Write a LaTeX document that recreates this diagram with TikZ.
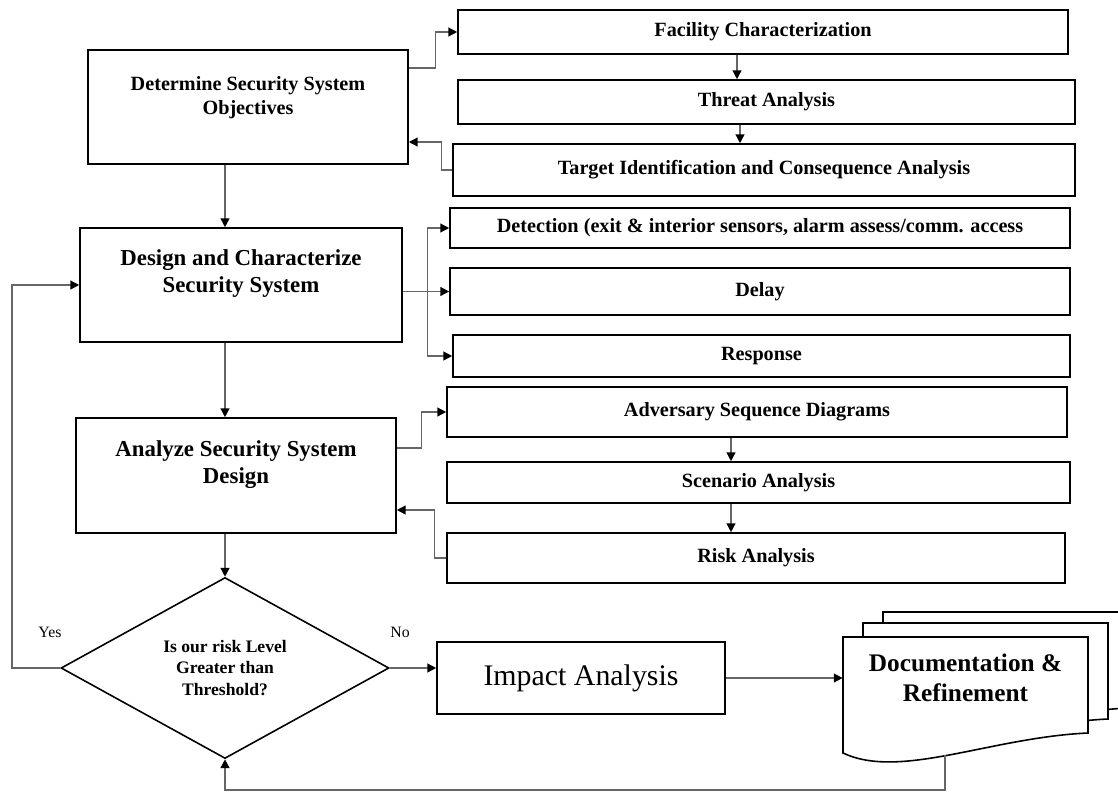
\documentclass[tikz,border=0pt]{standalone}
\usepackage{fontspec}
\setmainfont{Liberation Serif}
\usetikzlibrary{arrows.meta,shapes.geometric}

\begin{document}
\begin{tikzpicture}[
		>={Triangle[length=5pt,width=5pt,color=black]},
		box/.style={draw, line width=0.9pt, inner sep=0pt, font=\bfseries\fontsize{11.5}{13.5}\selectfont},
		bigbox/.style={box, align=center, minimum width=6.4cm, minimum height=2.28cm, font=\bfseries\fontsize{13}{15.5}\selectfont},
		conn/.style={->, draw=black!60, line width=0.8pt},
		lbl/.style={font=\fontsize{9}{11}\selectfont}
	]
			\useasboundingbox (0,0) rectangle (22.36,-15.9);
			
			% main steps
			\node[bigbox, font=\bfseries\fontsize{11.5}{13.5}\selectfont] (obj) at (4.96,-2.14) {Determine Security System\\Objectives\\\mbox{}};
			\node[bigbox, minimum width=6.44cm] (design) at (4.82,-5.70) {Design and Characterize\\Security System\\\mbox{}};
			\node[bigbox, minimum height=2.3cm] (analyze) at (4.72,-9.51) {Analyze Security System\\Design\\\mbox{}};
			\node[draw, diamond, line width=0.9pt, inner sep=0pt, aspect=1.8, minimum width=6.56cm, minimum height=3.62cm, align=center, font=\bfseries\fontsize{10}{12}\selectfont] (dia) at (4.5,-13.36) {Is our risk Level\\Greater than\\Threshold?};
			\node[draw, line width=0.9pt, minimum width=5.76cm, minimum height=1.44cm, font=\fontsize{17}{20}\selectfont] (impact) at (11.62,-13.56) {Impact Analysis};
			
			% sub steps
			\node[box, minimum width=12.2cm, minimum height=0.88cm] (fac) at (15.26,-0.64) {Facility Characterization};
			\node[box, minimum width=12.34cm, minimum height=0.88cm] (threat) at (15.33,-2.04) {Threat Analysis};
			\node[box, minimum width=12.44cm, minimum height=1.04cm] (target) at (15.28,-3.40) {Target Identification and Consequence Analysis};
			\node[box, minimum width=12.4cm, minimum height=0.8cm] (detect) at (15.2,-4.56) {Detection (exit \& interior sensors, alarm assess/comm. access};
			\node[box, minimum width=12.4cm, minimum height=0.94cm] (delay) at (15.2,-5.83) {Delay};
			\node[box, minimum width=12.34cm, minimum height=0.84cm] (resp) at (15.23,-7.12) {Response};
			\node[box, minimum width=12.4cm, minimum height=1.0cm] (adv) at (15.14,-8.24) {Adversary Sequence Diagrams};
			\node[box, minimum width=12.46cm, minimum height=0.82cm] (scen) at (15.17,-9.65) {Scenario Analysis};
			\node[box, minimum width=12.36cm, minimum height=1.0cm] (risk) at (15.12,-11.16) {Risk Analysis};
			
			% document pile
			\foreach \dx/\dy in {0.8/0.5, 0.4/0.28, 0/0}
			\draw[line width=0.9pt, fill=white] ({16.86+\dx},{-12.74+\dy}) -- ({21.76+\dx},{-12.74+\dy}) -- ({21.76+\dx},{-14.66+\dy}) .. controls ({19.8+\dx},{-14.75+\dy}) and ({18.0+\dx},{-15.6+\dy}) .. ({16.86+\dx},{-15.06+\dy}) -- cycle;
			\node[minimum width=4.9cm, align=center, font=\bfseries\fontsize{14.4}{17}\selectfont] (doc) at (19.31,-13.56) {Documentation \&\\Refinement};
			
			\node[lbl] (yes) at (1.0,-12.64) {Yes};
			\node[lbl] (no) at (8.0,-12.64) {No};
			
			\coordinate (loop) at (0.24,-13.36);
			\coordinate (docfoot) at (18.9,-15.09);
			\coordinate (back) at (18.9,-15.8);
			
			% flow
			\draw[conn] (dia.north |- obj.south) -- (dia.north |- design.north);
			\draw[conn] (dia.north |- design.south) -- (dia.north |- analyze.north);
			\draw[conn] (dia.north |- analyze.south) -- (dia.north);
			\draw[conn] (dia.west) -- (loop) |- (design.west);
			\draw[conn] (dia.east) -- (dia.east -| impact.west);
			\draw[conn] (impact.east) -- (doc.west);
			\draw[conn] (docfoot) -- (back) -| (dia.south);
			
			\draw[conn] ([yshift=0.78cm]obj.east) -- ++(0.54,0) |- (fac.west);
			\draw[conn] ([xshift=-0.52cm]fac.south) -- ([xshift=-0.52cm]fac.south |- threat.north);
			\draw[conn] ([xshift=-0.53cm]threat.south) -- ([xshift=-0.53cm]threat.south |- target.north);
			\draw[conn] (target.west) -- ++(-0.22,0) |- ([yshift=-0.7cm]obj.east);
			
			\draw[conn] (design.east |- delay.west) -- (delay.west);
			\draw[conn, <->] (detect.west) -- ++(-0.44,0) |- (resp.west);
			
			\draw[conn] ([yshift=0.55cm]analyze.east) -- ++(0.5,0) |- (adv.west);
			\draw[conn] ([xshift=-0.52cm]adv.south) -- ([xshift=-0.52cm]adv.south |- scen.north);
			\draw[conn] ([xshift=-0.55cm]scen.south) -- ([xshift=-0.55cm]scen.south |- risk.north);
			\draw[conn] (risk.west) -- ++(-0.24,0) |- ([yshift=-0.69cm]analyze.east);
			
		\end{tikzpicture}
\end{document}
